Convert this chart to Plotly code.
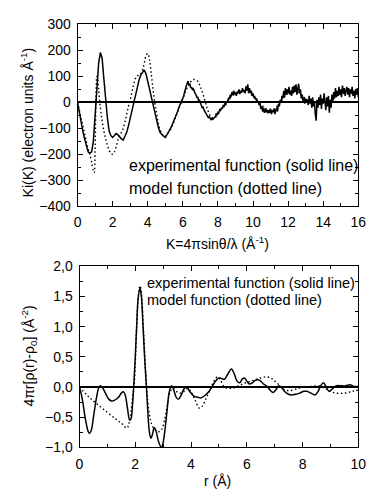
import numpy as np
import plotly.graph_objects as go

# ---------------- top panel data ----------------
k_exp_a = [round(0.1 * i, 2) for i in range(0, 61)]
ki_exp_a = [0, -40, -80, -110, -140, -170, -190, -195, -190, -150,
            -60, 50, 150, 192, 170, 90, 0, -60, -110, -128,
            -135, -128, -120, -125, -135, -140, -145, -130, -115, -90,
            -60, -30, 0, 30, 60, 85, 105, 115, 125, 110,
            80, 45, 15, -10, -40, -70, -95, -115, -125, -130,
            -135, -125, -110, -100, -85, -70, -55, -35, -15, 0, 15]
k_exp_b = [round(6.05 + 0.05 * i, 2) for i in range(0, 200)]
ki_exp_b = [25, 40, 55, 60, 75, 82, 65, 72, 55, 60,
            48, 52, 40, 35, 30, 18, 22, 5, 8, -5,
            -10, -20, -18, -30, -35, -40, -48, -50, -58, -55,
            -62, -66, -60, -67, -62, -58, -55, -45, -48, -38,
            -40, -28, -30, -20, -25, -12, -15, -5, -8, 5,
            0, 15, 12, 30, 22, 40, 28, 45, 30, 38,
            25, 42, 35, 50, 32, 45, 38, 55, 40, 48,
            35, 62, 45, 70, 40, 55, 35, 45, 25, 35,
            20, 22, 10, 15, 0, 5, -10, -5, -25, -15,
            -35, -20, -40, -25, -38, -28, -42, -30, -40, -25,
            -45, -30, -38, -25, -45, -30, -20, -35, -5, -15,
            10, 0, 25, 15, 45, 20, 55, 30, 50, 35,
            60, 30, 45, 25, 60, 35, 65, 40, 70, 30,
            55, 72, 35, 50, 15, 30, 5, 20, -5, 15,
            0, 10, -10, 25, -5, 15, -20, 20, -15, 5,
            -45, -70, 10, -20, 20, -10, 30, -25, 15, -5,
            35, 0, -30, 20, -15, 25, -40, 10, -20, 30,
            5, 40, 15, 55, 20, 45, 25, 60, 30, 50,
            20, 65, 35, 55, 25, 45, 60, 30, 55, 20,
            50, 35, 60, 25, 45, 15, 50, 30, 55, 20]
k_exp = k_exp_a + k_exp_b[:len(ki_exp_b)]
ki_exp = ki_exp_a + ki_exp_b

k_mod = [0, 0.2, 0.4, 0.6, 0.7, 0.8, 0.9, 0.95, 1.0, 1.05, 1.1, 1.15, 1.2, 1.3, 1.4,
         1.5, 1.6, 1.7, 1.8, 1.9, 2.0, 2.1, 2.2, 2.3, 2.4, 2.5, 2.6, 2.7, 2.8, 2.9,
         3.0, 3.1, 3.2, 3.3, 3.4, 3.5, 3.6, 3.7, 3.8, 3.9, 4.0, 4.1, 4.2, 4.3, 4.4,
         4.5, 4.6, 4.7, 4.8, 4.9, 5.0, 5.2, 5.4, 5.6, 5.8, 6.0, 6.2, 6.4, 6.6, 6.8,
         7.0, 7.2, 7.4, 7.6, 7.8, 8.0, 8.3, 8.6, 8.9, 9.2, 9.6, 10.0, 10.4, 10.8,
         11.2, 11.6, 12.0, 12.4, 12.8, 13.2, 13.6, 14.0, 14.4, 14.8, 15.2, 15.6, 16.0]
ki_mod = [0, -60, -120, -180, -200, -230, -262, -270, -180, 20, 100, 90, 50, -20, -70,
          -110, -140, -165, -185, -195, -200, -190, -170, -145, -125, -115, -100, -75, -45, -15,
          10, 40, 70, 92, 102, 105, 110, 125, 150, 180, 188, 165, 110, 50, 0,
          -40, -80, -105, -120, -128, -130, -115, -90, -55, -20, 15, 50, 75, 88, 85,
          60, 20, -25, -55, -60, -45, -15, 10, 30, 38, 42, 25, -5, -25,
          -25, 5, 35, 45, 25, 5, -5, 0, 5, 25, 35, 35, 25]

# ---------------- bottom panel data ----------------
r_exp = [0, 0.1, 0.2, 0.3, 0.35, 0.42, 0.5, 0.6, 0.7, 0.75, 0.85, 0.95, 1.05, 1.15, 1.25,
         1.4, 1.5, 1.58, 1.65, 1.72, 1.8, 1.85, 1.9, 1.95, 2.0, 2.05, 2.1, 2.17, 2.22, 2.28,
         2.34, 2.4, 2.45, 2.5, 2.56, 2.62, 2.68, 2.74, 2.82, 2.9, 2.95, 3.0, 3.08, 3.15, 3.22,
         3.3, 3.38, 3.47, 3.55, 3.65, 3.75, 3.85, 3.95, 4.1, 4.25, 4.35, 4.5, 4.65, 4.75, 4.85,
         5.0, 5.1, 5.2, 5.3, 5.45, 5.55, 5.65, 5.75, 5.85, 5.92, 6.0, 6.1, 6.2, 6.3, 6.4,
         6.5, 6.6, 6.7, 6.8, 6.9, 6.95, 7.05, 7.15, 7.25, 7.35, 7.5, 7.6, 7.75, 7.9, 8.05,
         8.15, 8.3, 8.45, 8.55, 8.65, 8.75, 8.85, 8.95, 9.05, 9.2, 9.4, 9.55, 9.7, 9.85, 10.0]
g_exp = [0, -0.2, -0.5, -0.72, -0.77, -0.72, -0.5, -0.2, 0.0, 0.02, -0.03, -0.12, -0.2, -0.23, -0.22,
         -0.17, -0.1, -0.08, -0.15, -0.35, -0.55, -0.52, -0.3, 0.05, 0.5, 1.0, 1.45, 1.64, 1.5, 1.0,
         0.45, 0.0, -0.4, -0.72, -0.85, -0.78, -0.67, -0.72, -0.88, -0.98, -1.0, -0.92, -0.65, -0.35, -0.08,
         0.02, -0.05, -0.17, -0.2, -0.13, -0.03, 0.0, -0.07, -0.15, -0.17, -0.18, -0.14, -0.07, 0.0, 0.08,
         0.15, 0.14, 0.13, 0.2, 0.3, 0.22, 0.1, 0.07, 0.14, 0.15, 0.1, 0.05, 0.07, 0.11, 0.12,
         0.1, 0.05, 0.02, -0.03, -0.08, -0.09, -0.04, 0.02, -0.01, -0.07, -0.12, -0.13, -0.12, -0.1, -0.07,
         -0.07, -0.1, -0.13, -0.08, 0.02, 0.07, 0.0, -0.07, -0.04, 0.02, 0.02, 0.02, 0.04, 0.01, 0.01]

r_mod = [0, 0.3, 0.6, 1.0, 1.3, 1.5, 1.7, 1.8, 1.9, 1.97, 2.05, 2.12, 2.17, 2.22, 2.3,
         2.38, 2.45, 2.55, 2.65, 2.75, 2.85, 2.95, 3.05, 3.15, 3.25, 3.35, 3.5, 3.65, 3.8, 3.9,
         4.0, 4.15, 4.3, 4.4, 4.55, 4.7, 4.85, 4.95, 5.05, 5.2, 5.35, 5.5, 5.7, 5.9, 6.1,
         6.3, 6.5, 6.7, 6.9, 7.1, 7.3, 7.5, 7.8, 8.0, 8.3, 8.6, 8.8, 9.0, 9.2, 9.5, 9.8, 10.0]
g_mod = [0, -0.15, -0.27, -0.42, -0.53, -0.6, -0.68, -0.55, -0.2, 0.1, 1.0, 1.55, 1.68, 1.55, 0.9,
         0.2, -0.25, -0.55, -0.68, -0.72, -0.74, -0.7, -0.55, -0.3, -0.08, -0.02, -0.08, -0.1, -0.05, -0.02,
         -0.08, -0.22, -0.35, -0.32, -0.18, -0.02, 0.12, 0.17, 0.12, 0.0, -0.02, -0.02, 0.02, 0.06, 0.09,
         0.12, 0.15, 0.17, 0.14, 0.06, -0.03, -0.06, -0.03, 0.0, 0.01, 0.02, -0.02, -0.07, -0.1, -0.1, -0.07, -0.05]

FONT = "Liberation Sans, Arial, sans-serif"
W, H = 375, 497
DOT = "1.5px,2.5px"

fig = go.Figure()
fig.add_trace(go.Scatter(x=k_mod, y=ki_mod, mode="lines", xaxis="x", yaxis="y",
                         line=dict(color="black", width=1.4, dash=DOT, shape="spline"),
                         showlegend=False))
fig.add_trace(go.Scatter(x=k_exp, y=ki_exp, mode="lines", xaxis="x", yaxis="y",
                         line=dict(color="black", width=1.5), showlegend=False))
fig.add_trace(go.Scatter(x=r_mod, y=g_mod, mode="lines", xaxis="x2", yaxis="y2",
                         line=dict(color="black", width=1.4, dash=DOT, shape="spline"),
                         showlegend=False))
fig.add_trace(go.Scatter(x=r_exp, y=g_exp, mode="lines", xaxis="x2", yaxis="y2",
                         line=dict(color="black", width=1.5, shape="spline"),
                         showlegend=False))

def px_x(p):
    return p / W

def px_y(p):
    return 1 - p / H

axis_common = dict(showline=True, linecolor="black", linewidth=1, mirror="allticks",
                   ticks="inside", ticklen=5, tickcolor="black", tickwidth=1,
                   showgrid=False, tickfont=dict(family=FONT, size=14, color="black"))

fig.update_layout(
    width=W, height=H,
    margin=dict(l=0, r=0, t=0, b=0),
    paper_bgcolor="white", plot_bgcolor="white",
    separators=", ",
    font=dict(family=FONT, color="black"),
    xaxis=dict(domain=[px_x(76), px_x(366)], range=[0, 16], dtick=2, anchor="y",
               zeroline=False, ticklabelstandoff=3,
               minor=dict(ticks="inside", dtick=1, ticklen=3, tickcolor="black"),
               **axis_common),
    yaxis=dict(domain=[px_y(205), px_y(17)], range=[-400, 300], dtick=100, anchor="x",
               zeroline=True, zerolinecolor="black", zerolinewidth=1.5, ticklabelstandoff=3,
               minor=dict(ticks="inside", dtick=50, ticklen=3, tickcolor="black"),
               **axis_common),
    xaxis2=dict(domain=[px_x(78), px_x(366)], range=[0, 10], dtick=2, anchor="y2",
                zeroline=False, ticklabelstandoff=4,
                minor=dict(ticks="inside", dtick=1, ticklen=3, tickcolor="black"),
                **axis_common),
    yaxis2=dict(domain=[px_y(454), px_y(267)], range=[-1.0, 2.0], dtick=0.5, anchor="x2",
                tickformat=".1f", ticklabelstandoff=3,
                zeroline=True, zerolinecolor="black", zerolinewidth=1.5,
                minor=dict(ticks="inside", dtick=0.25, ticklen=3, tickcolor="black"),
                **axis_common),
)

ann_top = dict(family=FONT, size=16, color="black")
ann_bot = dict(family=FONT, size=14.5, color="black")
title_font = dict(family=FONT, size=14, color="black")
annotations = [
    dict(text="experimental function (solid line)", x=px_x(127), y=px_y(163),
         xanchor="left", yanchor="middle", font=ann_top),
    dict(text="model function (dotted line)", x=px_x(127), y=px_y(186),
         xanchor="left", yanchor="middle", font=ann_top),
    dict(text="experimental function (solid line)", x=px_x(146), y=px_y(284),
         xanchor="left", yanchor="middle", font=ann_bot),
    dict(text="model function (dotted line)", x=px_x(146), y=px_y(302),
         xanchor="left", yanchor="middle", font=ann_bot),
    dict(text="K=4πsinθ/λ (Å<sup>-1</sup>)", x=px_x(221), y=px_y(243),
         xanchor="center", yanchor="middle", font=title_font),
    dict(text="r (Å)", x=px_x(221), y=px_y(489),
         xanchor="center", yanchor="middle", font=title_font),
    dict(text="Ki(K) (electron units Å<sup>-1</sup>)", x=px_x(24), y=px_y(118),
         textangle=-90, xanchor="center", yanchor="middle", font=title_font),
    dict(text="4πr[ρ(r)-ρ<sub>0</sub>] (Å<sup>-2</sup>)", x=px_x(26), y=px_y(360),
         textangle=-90, xanchor="center", yanchor="middle", font=title_font),
]
for a in annotations:
    a.update(xref="paper", yref="paper", showarrow=False)
fig.update_layout(annotations=annotations)

fig.write_html("out.html")
